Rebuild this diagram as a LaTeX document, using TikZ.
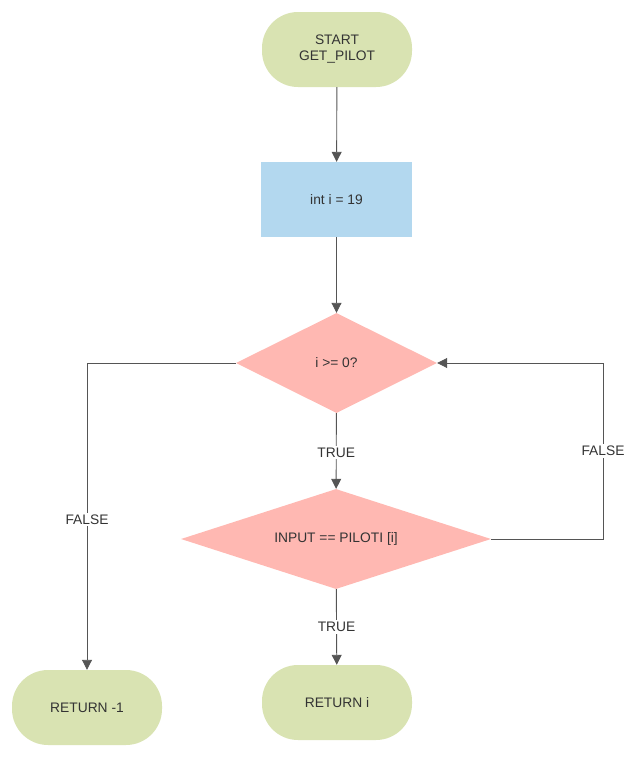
\documentclass[tikz,border=0pt]{standalone}
\usepackage{fontspec}
\setmainfont{Liberation Sans}
\usetikzlibrary{shapes.geometric,arrows.meta}
\definecolor{termc}{HTML}{D9E3B2}
\definecolor{procc}{HTML}{B3D8EF}
\definecolor{decc}{HTML}{FFB8B2}
\definecolor{linec}{HTML}{555555}
\definecolor{txtc}{HTML}{333333}
\tikzset{
  x=1pt, y=-1pt,
  every node/.style={font=\fontsize{13.8}{16}\selectfont, text=txtc},
  term/.style={fill=termc, rounded corners=36pt, minimum width=150pt, minimum height=75pt, align=center, inner sep=0pt},
  proc/.style={fill=procc, minimum width=151pt, minimum height=75pt, inner sep=0pt},
  dec/.style={fill=decc, shape=diamond, inner sep=0pt},
  conn/.style={draw=linec, line width=0.9pt, -{Triangle[length=10pt,width=10pt]}},
  lab/.style={fill=white, inner sep=2pt}
}
\begin{document}
\begin{tikzpicture}
\useasboundingbox (0,0) rectangle (638,758);
\node[term] (start) at (337,49.5) {START\\GET\_PILOT};
\node[proc] (init) at (336.5,199.5) {int i = 19};
\node[dec, aspect=2, minimum width=201pt, minimum height=100pt] (d1) at (336.5,363) {i >= 0?};
\node[dec, aspect=3.1, minimum width=310pt, minimum height=100pt] (d2) at (336,539) {INPUT == PILOTI [i]};
\node[term] (ret1) at (87,707.5) {RETURN -1};
\node[term] (reti) at (337,702.5) {RETURN i};
\coordinate (cl) at (87,363);
\coordinate (cr1) at (603,539);
\coordinate (cr2) at (603,363);
\draw[conn] (start) -- (init);
\draw[conn] (init) -- (d1);
\draw[conn] (d1) -- node[lab, pos=0.52] {TRUE} (d2);
\draw[conn] (d2) -- node[lab, pos=0.5] {TRUE} (reti);
\draw[conn] (d1.west) -- (cl) -- node[lab, pos=0.51] {FALSE} (ret1);
\draw[conn] (d2.east) -- (cr1) -- node[lab, pos=0.5] {FALSE} (cr2) -- (d1.east);
\end{tikzpicture}
\end{document}
